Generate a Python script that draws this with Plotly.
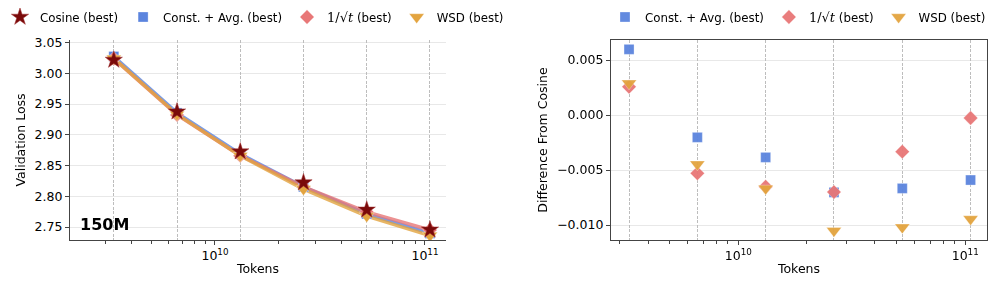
import plotly.graph_objects as go

# ---- data ----
tokens = [3.3e9, 6.6e9, 1.32e10, 2.64e10, 5.28e10, 1.056e11]

loss_cosine = [3.0215, 2.9375, 2.8726, 2.8223, 2.7780, 2.7456]
loss_const = [3.0272, 2.9355, 2.8688, 2.8153, 2.7713, 2.7397]
loss_sqrt = [3.0238, 2.9322, 2.8661, 2.8153, 2.7747, 2.7453]
loss_wsd = [3.0241, 2.9330, 2.8659, 2.8118, 2.7678, 2.7362]

diff_const = [0.00597, -0.00203, -0.00385, -0.00703, -0.00667, -0.00591]
diff_sqrt = [0.00257, -0.00530, -0.00652, -0.00700, -0.00333, -0.00027]
diff_wsd = [0.00288, -0.00448, -0.00667, -0.01052, -0.01021, -0.00945]

left_yticks = [2.75, 2.80, 2.85, 2.90, 2.95, 3.00, 3.05]
right_yticks = [-0.010, -0.005, 0.000, 0.005]
major_x = [1e10, 1e11]
major_x_text = ["10<sup>10</sup>", "10<sup>11</sup>"]
minor_x = [2e9, 3e9, 4e9, 5e9, 6e9, 7e9, 8e9, 9e9,
           2e10, 3e10, 4e10, 5e10, 6e10, 7e10, 8e10, 9e10]

# ---- styles ----
C_COS = "#7a0a0a"
C_CONST = "#5b84de"
C_SQRT = "#e87777"
C_WSD = "#e3a43f"
FONT = "DejaVu Sans"
SQRT_LABEL = '<span style="font-family:DejaVu Serif;font-size:13px">1/√<i>t</i></span> (best)'

# page has an 8px body margin: figure is 988x274 so it fills the 996x282 window
OFF = 8
W, H = 996 - OFF, 282 - OFF
ML, MR, MT, MB = 70 - OFF, 9, 40 - OFF, 42
PW, PH = W - ML - MR, H - MT - MB

fig = go.Figure()

# overlay-axis helpers (invisible) so dashed guide axes are rendered
fig.add_trace(go.Scatter(x=[tokens[0]], y=[loss_cosine[0]], mode="markers", marker=dict(opacity=0),
                         showlegend=False, hoverinfo="skip", xaxis="x3", yaxis="y"))
fig.add_trace(go.Scatter(x=[tokens[0]], y=[diff_const[0]], mode="markers", marker=dict(opacity=0),
                         showlegend=False, hoverinfo="skip", xaxis="x4", yaxis="y2"))

# left: lines
for ys, col in [(loss_const, C_CONST), (loss_sqrt, C_SQRT), (loss_wsd, C_WSD)]:
    fig.add_trace(go.Scatter(x=tokens, y=ys, mode="lines", line=dict(color=col, width=3.5),
                             opacity=0.8, showlegend=False, hoverinfo="skip",
                             xaxis="x", yaxis="y"))

edge = dict(width=0.6, color="rgba(255,255,255,0.5)")
mk_const = dict(symbol="square", size=10, color=C_CONST, line=edge)
mk_sqrt = dict(symbol="diamond", size=11, color=C_SQRT, line=edge)
mk_wsd = dict(symbol="triangle-down", size=13, color=C_WSD, line=edge)
mk_cos = dict(symbol="star", size=13, color=C_COS, line=dict(width=0.5, color="#a03030"))

fig.add_trace(go.Scatter(x=tokens, y=loss_const, mode="markers", marker=mk_const, name="Const. + Avg. (best)",
                         xaxis="x", yaxis="y", legend="legend", legendrank=2))
fig.add_trace(go.Scatter(x=tokens, y=loss_sqrt, mode="markers", marker=mk_sqrt, name=SQRT_LABEL,
                         xaxis="x", yaxis="y", legend="legend", legendrank=3))
fig.add_trace(go.Scatter(x=tokens, y=loss_wsd, mode="markers", marker=mk_wsd, name="WSD (best)",
                         xaxis="x", yaxis="y", legend="legend", legendrank=4))
fig.add_trace(go.Scatter(x=tokens, y=loss_cosine, mode="markers", marker=mk_cos, name="Cosine (best)",
                         xaxis="x", yaxis="y", legend="legend", legendrank=1))

# right: markers
fig.add_trace(go.Scatter(x=tokens, y=diff_const, mode="markers", marker=mk_const, name="Const. + Avg. (best)",
                         xaxis="x2", yaxis="y2", legend="legend2", opacity=0.95))
fig.add_trace(go.Scatter(x=tokens, y=diff_sqrt, mode="markers", marker=mk_sqrt, name=SQRT_LABEL,
                         xaxis="x2", yaxis="y2", legend="legend2", opacity=0.95))
fig.add_trace(go.Scatter(x=tokens, y=diff_wsd, mode="markers", marker=mk_wsd, name="WSD (best)",
                         xaxis="x2", yaxis="y2", legend="legend2", opacity=0.95))

axis_font = dict(family=FONT, size=12.5, color="black")
title_font = dict(family=FONT, size=12.5, color="black")

L_DOM = [0, (446 - 70) / PW]
R_DOM = [(611 - 70) / PW, 1]
L_XR = [9.31, 11.1]
R_XR = [9.439, 11.096]

common_x = dict(type="log", tickmode="array", tickvals=major_x, ticktext=major_x_text,
                ticks="outside", ticklen=4, tickcolor="#444", showgrid=False, zeroline=False,
                showline=True, linecolor="#444", linewidth=1.2, tickfont=axis_font, automargin=False,
                minor=dict(tickvals=minor_x, ticks="outside", ticklen=2.5, tickcolor="#444", showgrid=False),
                title=dict(text="Tokens", font=title_font, standoff=2))
common_y = dict(ticks="outside", ticklen=4, tickcolor="#444", showgrid=True, gridcolor="#e8e8e8",
                gridwidth=1.2, zeroline=False, showline=True, linecolor="#444", linewidth=1.2,
                tickfont=axis_font, automargin=False, tickmode="array")
guide = dict(type="log", tickmode="array", tickvals=tokens, showticklabels=False, ticks="",
             showgrid=True, griddash="3px,1.5px", gridcolor="#bdbdbd", gridwidth=1,
             showline=False, zeroline=False, automargin=False)

leg_y = (H - MB - (17 - OFF)) / PH

def px_x(page_x):
    return (page_x - OFF - ML) / PW

fig.update_layout(
    width=W, height=H,
    margin=dict(l=ML, r=MR, t=MT, b=MB, autoexpand=False),
    paper_bgcolor="white", plot_bgcolor="white",
    font=dict(family=FONT, color="black"),
    xaxis=dict(domain=L_DOM, range=L_XR, anchor="y", **common_x),
    yaxis=dict(domain=[0, 1], range=[2.729, 3.054], anchor="x", tickvals=left_yticks, tickformat=".2f",
               title=dict(text="Validation Loss", font=title_font, standoff=6), **common_y),
    xaxis2=dict(domain=R_DOM, range=R_XR, anchor="y2", mirror=True, **common_x),
    yaxis2=dict(domain=[0, 1], range=[-0.01136, 0.00682], anchor="x2", tickvals=right_yticks,
                tickformat=".3f", mirror=True,
                title=dict(text="Difference From Cosine", font=title_font, standoff=6), **common_y),
    # overlay axes drawing dashed vertical guides at the data positions
    xaxis3=dict(overlaying="x", anchor="y", range=L_XR, **guide),
    xaxis4=dict(overlaying="x2", anchor="y2", range=R_XR, **guide),
    legend=dict(orientation="h", x=px_x(0), y=leg_y, xanchor="left", yanchor="middle",
                font=dict(family=FONT, size=11.8, color="black"), bgcolor="rgba(0,0,0,0)",
                traceorder="normal", itemsizing="trace"),
    legend2=dict(orientation="h", x=px_x(605), y=leg_y, xanchor="left", yanchor="middle",
                 font=dict(family=FONT, size=11.8, color="black"), bgcolor="rgba(0,0,0,0)",
                 traceorder="normal", itemsizing="trace"),
    annotations=[dict(text="<b>150M</b>", xref="x domain", yref="y domain", x=0.02, y=0.08,
                      xanchor="left", yanchor="middle", showarrow=False,
                      font=dict(family=FONT, size=16, color="black"))],
)

fig.write_html("out.html")
